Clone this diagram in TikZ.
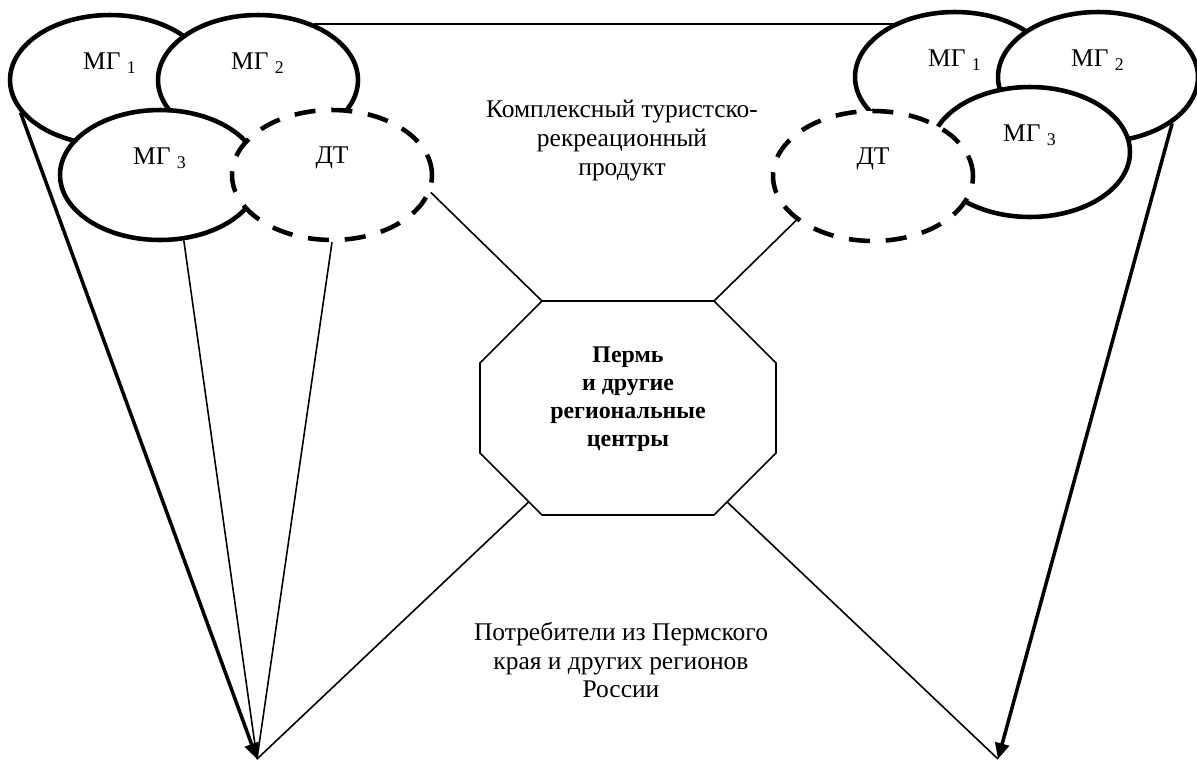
\documentclass[tikz,border=0pt]{standalone}
\usepackage{fontspec}
\setmainfont{Liberation Serif}
\usetikzlibrary{shapes.geometric}
\usetikzlibrary{arrows.meta,calc,backgrounds}
\newcommand{\ovY}{0.34cm}
\newcommand{\ovW}{4cm}
\newcommand{\ovH}{2.6cm}

\begin{document}
\begin{tikzpicture}[x=0.02cm, y=-0.02cm,
	font=\fontsize{14.5}{16.5}\selectfont,
	oval/.style={ellipse, draw, line width=2.6pt, fill=white, inner sep=0pt,
		minimum width=\ovW, minimum height=\ovH, label={[yshift=\ovY]center:#1}},
	dtoval/.style={oval=#1, dash pattern=on 12pt off 9pt},
	thinline/.style={line width=0.9pt},
	thickarrow/.style={line width=2pt, -{Triangle[length=9pt,width=8pt]}},
	txt/.style={align=center, inner sep=0pt}]
		
		\useasboundingbox (0,0) rectangle (1197,761);
		% Left group
		\node[oval={МГ \textsubscript{1}}] (m1L) at (110,80) {};
		\node[oval={МГ \textsubscript{2}}] (m2L) at (258,80) {};
		\node[oval={МГ \textsubscript{3}}] (m3L) at (160,175) {};
		\node[dtoval={ДТ}] (dtL) at (332,175) {};
		% Right group
		\node[oval={МГ \textsubscript{1}}] (m1R) at (955,77) {};
		\node[oval={МГ \textsubscript{2}}] (m2R) at (1098,77) {};
		\node[oval={МГ \textsubscript{3}}] (m3R) at (1030,152) {};
		\node[dtoval={ДТ}] (dtR) at (873,176) {};
		
		% Texts
		\node[txt] (product) at (622,141) {Комплексный туристско-\\рекреационный\\продукт};
		\node[txt] (consumers) at (621,660) {Потребители из Пермского\\края и других регионов\\России};
		\node[txt, font=\fontsize{13.6}{15.9}\selectfont\bfseries] (perm) at (628,399) {Пермь\\и другие\\региональные\\центры};
		
		% Octagon
		\coordinate (octc) at ($(perm.center)+(0,9)$);
		\foreach \n/\dx/\dy in {1/-86/-107, 2/86/-107, 3/148/-45, 4/148/45, 5/86/107, 6/-86/107, 7/-148/45, 8/-148/-45}
			\coordinate (o\n) at ($(octc)+(\dx,\dy)$);
		\coordinate (tipL) at (257,759);
		\coordinate (tipR) at (998,759);
		
		\begin{scope}[on background layer]
			\draw[thinline] (m2L.45) -- (m2L.45 -| m1R.center);
			\draw[thinline] (octc) -- (tipL);
			\draw[thinline] (octc) -- (tipR);
			\draw[thinline, fill=white] (o1) -- (o2) -- (o3) -- (o4) -- (o5) -- (o6) -- (o7) -- (o8) -- cycle;
		\end{scope}
		
		% Connectors
		\draw[thickarrow] (m1L.200) -- (tipL);
		\draw[thinline] (m3L.290) -- (tipL);
		\draw[thinline] (dtL.south) -- (tipL);
		\draw[thinline] (dtL.350) -- (o1);
		\draw[thinline] (dtR.210) -- (o2);
		\draw[thickarrow] (m2R.328) -- (tipR);
	\end{tikzpicture}
\end{document}
